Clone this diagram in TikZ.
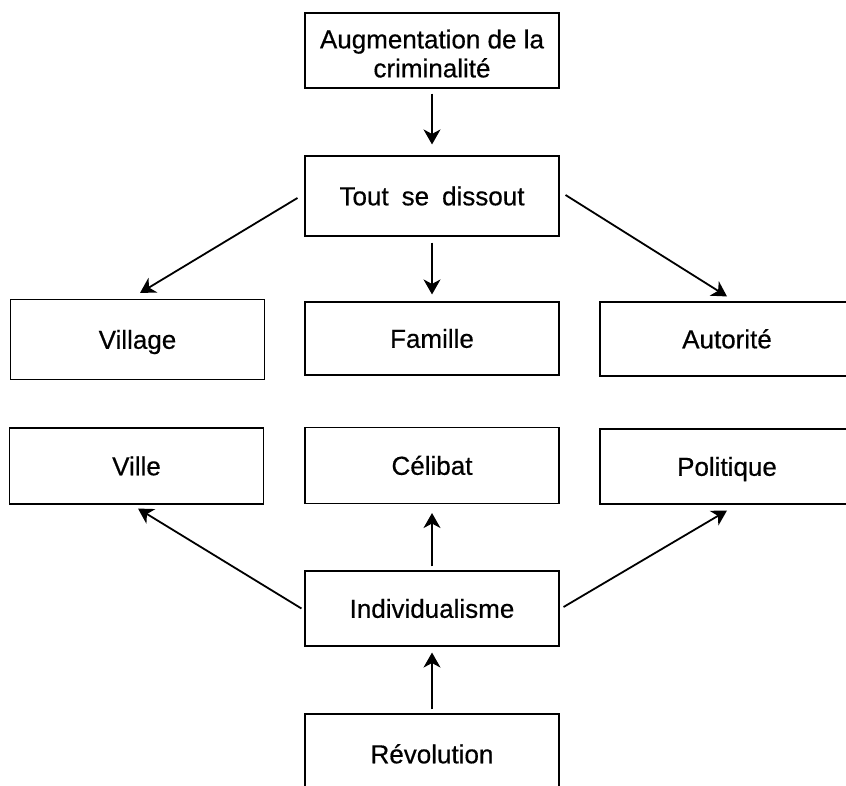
\documentclass[tikz,border=0pt]{standalone}
\usepackage{fontspec}
\setmainfont{Liberation Sans}
\newfontfamily\labfont{Liberation Sans}[FakeBold=0.5]
\usetikzlibrary{arrows.meta,calc}
\begin{document}
\begin{tikzpicture}[x=1pt,y=-1pt,
  box/.style={draw=black,line width=1.1pt,minimum width=254pt,minimum height=76pt,inner sep=0pt,align=center,font=\labfont\fontsize{26}{29}\selectfont},
  one/.style={text height=18.6pt,text depth=0pt},
  arr/.style={line width=1.8pt,-{Stealth[length=15pt,width=17pt,inset=4.5pt]}}]
\useasboundingbox (0,0) rectangle (846,786);
\node[box,minimum height=75pt] (aug) at (432,50.5) {\rule{0pt}{25pt}Augmentation de la\\criminalité};
\node[box,one,minimum height=80pt] (tout) at (432,196) {Tout\hspace{0.5em}se\hspace{0.5em}dissout};
\node[box,one,minimum height=80pt] (village) at (137.5,339.5) {Village};
\node[box,one,minimum height=73pt] (famille) at (432,338.5) {Famille};
\node[box,one,minimum height=74pt] (autorite) at (727,339) {Autorité};
\node[box,one] (ville) at (136.5,466) {Ville};
\node[box,one] (celibat) at (432,465.5) {Célibat};
\node[box,one,minimum height=75pt] (politique) at (727,466.5) {Politique};
\node[box,one,minimum height=75pt] (indiv) at (432,608.5) {Individualisme};
\node[box,one,minimum height=80pt] (revol) at (432,754) {Révolution};
\draw[arr] ($(aug.south)+(0,5)$) -- ($(tout.north)+(0,-11)$);
\draw[arr] ($(tout.south)+(0,6)$) -- ($(famille.north)+(0,-7)$);
\draw[arr] ($(tout.west)+(-7,2)$) -- ($(village.north)+(2.5,-6)$);
\draw[arr] ($(tout.east)+(6,-1)$) -- ($(autorite.north)+(0,-5)$);
\draw[arr] ($(indiv.west)+(-3,0)$) -- ($(ville.south)+(1.5,4)$);
\draw[arr] ($(indiv.east)+(4,-1.5)$) -- ($(politique.south)+(0,6)$);
\draw[arr] ($(indiv.north)+(0,-4)$) -- ($(celibat.south)+(0,9)$);
\draw[arr] ($(revol.north)+(0,-4)$) -- ($(indiv.south)+(0,6)$);
\end{tikzpicture}
\end{document}
